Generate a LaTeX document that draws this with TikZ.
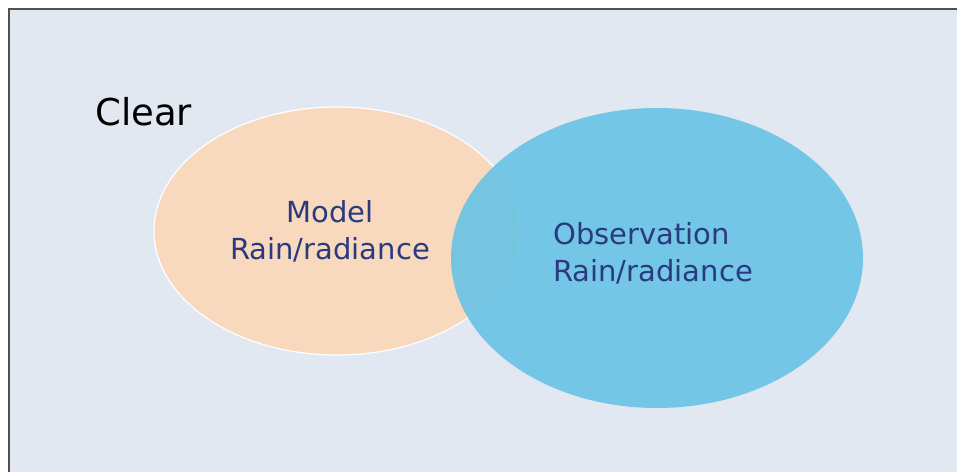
\documentclass[tikz,border=0pt]{standalone}
\usepackage{fontspec}
\setmainfont{DejaVu Sans}
\usetikzlibrary{shapes.geometric}
\definecolor{bgblue}{HTML}{E1E8F2}
\definecolor{framegray}{HTML}{505050}
\definecolor{modelfill}{HTML}{F8D9BD}
\definecolor{obsfill}{HTML}{68C3E4}
\definecolor{labelblue}{HTML}{2A3A7E}
\begin{document}
\begin{tikzpicture}[x=1pt,y=-1pt,
                    set/.style={ellipse,inner sep=0pt},
                    setlabel/.style={text=labelblue,font=\fontsize{29}{37}\selectfont}]
\useasboundingbox (0,0) rectangle (957,472);
\fill[white] (0,0) rectangle (957,472);
\fill[bgblue] (9,9) rectangle (957,472);
\draw[framegray,line width=2pt] (9,472) -- (9,9) -- (957,9);
\node[set,fill=modelfill,draw=white,line width=1.2pt,minimum width=366pt,minimum height=248pt] (model) at (337,231) {};
\node[set,fill=obsfill,fill opacity=0.9,minimum width=412pt,minimum height=300pt] (obs) at (657,258) {};
\node[anchor=base west,font=\fontsize{37}{44}\selectfont,inner sep=0pt] (clear) at (95,125) {Clear};
\node[setlabel,align=center] (modeltxt) at (330,231) {Model\\Rain/radiance};
\node[setlabel,align=left,anchor=west,inner sep=0pt] (obstxt) at (553,253) {Observation\\Rain/radiance};
\end{tikzpicture}
\end{document}
